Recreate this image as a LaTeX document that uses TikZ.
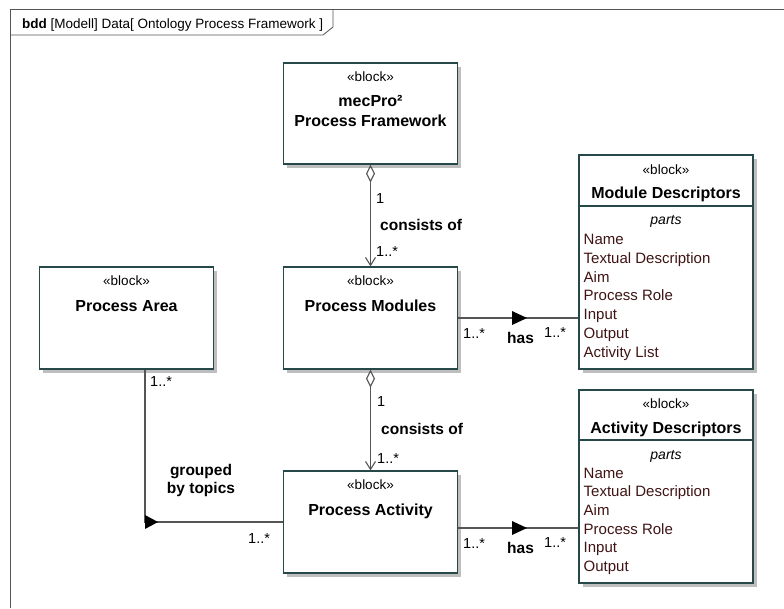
\documentclass[tikz,border=0pt]{standalone}
\usepackage{fontspec}
\setmainfont{Liberation Sans}
\usetikzlibrary{arrows.meta,shadows,calc}
\definecolor{boxcol}{RGB}{38,72,72}
\definecolor{shcol}{RGB}{190,190,190}
\definecolor{conncol}{RGB}{85,85,85}
\definecolor{attrcol}{RGB}{64,20,20}
\begin{document}
\begin{tikzpicture}[x=1pt,y=-1pt,
  blockbox/.style={draw=boxcol, line width=1.1pt, fill=white, inner sep=0pt, minimum width=174pt,
    drop shadow={opacity=1, fill=shcol, shadow xshift=3.5pt, shadow yshift=-3.5pt}},
  stereo/.style={font=\fontsize{13.5}{16}\selectfont, anchor=base, inner sep=0pt},
  btitle/.style={font=\fontsize{16}{19}\selectfont\bfseries, anchor=base, inner sep=0pt},
  partlbl/.style={font=\fontsize{14}{16}\selectfont\itshape, anchor=base, inner sep=0pt},
  attr/.style={font=\fontsize{15}{17}\selectfont, text=attrcol, anchor=base west, inner sep=0pt},
  mult/.style={font=\fontsize{14.5}{17}\selectfont, anchor=base west, inner sep=0pt},
  rolelbl/.style={font=\fontsize{15.5}{18}\selectfont\bfseries, anchor=base west, inner sep=0pt},
  rolec/.style={font=\fontsize{15.5}{18}\selectfont\bfseries, anchor=base, inner sep=0pt},
  conn/.style={draw=conncol, line width=1.1pt},
  seprule/.style={draw=boxcol, line width=1.1pt},
]
\useasboundingbox (0,0) rectangle (784,608);
\fill[white] (0,0) rectangle (784,608);

% diagram frame
\draw[conncol, line width=1pt] (10,608) -- (10,9) -- (784,9);
\draw[conncol, line width=0.8pt] (10,35) -- (323,35) -- (333,27) -- (333,9);
\node[anchor=base west, inner sep=0pt, font=\fontsize{13.5}{16}\selectfont] (hdr) at (22,28)
  {\textbf{bdd} [Modell] Data[ Ontology Process Framework ]};

% blocks
\node[blockbox, minimum height=101pt] (fw) at (370.5,113.5) {};
\node[stereo] (fws) at (370.5,81) {«block»};
\node[btitle] (fwt1) at (370.5,106) {mecPro²};
\node[btitle] (fwt2) at (370.5,126) {Process Framework};

\node[blockbox, minimum height=102pt] (area) at (126.5,318) {};
\node[stereo] (areas) at (126.5,285) {«block»};
\node[btitle] (areat) at (126.5,311) {Process Area};

\node[blockbox, minimum height=102pt] (mod) at (370.5,318) {};
\node[stereo] (mods) at (370.5,285) {«block»};
\node[btitle] (modt) at (370.5,311) {Process Modules};

\node[blockbox, minimum height=102pt] (act) at (370.5,522) {};
\node[stereo] (acts) at (370.5,489) {«block»};
\node[btitle] (actt) at (370.5,515) {Process Activity};

% descriptor blocks
\coordinate (s1) at (0,206);
\coordinate (s2) at (0,440);
\node[blockbox, minimum height=214pt] (md) at (666,262) {};
\draw[seprule] (md.west |- s1) -- (md.east |- s1);
\node[stereo] (mds) at (666,174) {«block»};
\node[btitle] (mdt) at (666,198) {Module Descriptors};
\node[partlbl] (mdp) at (666,224) {parts};
\node[attr] (mda1) at (583.5,244) {Name};
\node[attr] (mda2) at (583.5,263) {Textual Description};
\node[attr] (mda3) at (583.5,282) {Aim};
\node[attr] (mda4) at (583.5,300.5) {Process Role};
\node[attr] (mda5) at (583.5,319.5) {Input};
\node[attr] (mda6) at (583.5,338) {Output};
\node[attr] (mda7) at (583.5,357) {Activity List};

\node[blockbox, minimum height=193pt] (ad) at (666,486.5) {};
\draw[seprule] (ad.west |- s2) -- (ad.east |- s2);
\node[stereo] (ads) at (666,408) {«block»};
\node[btitle] (adt) at (666,433) {Activity Descriptors};
\node[partlbl] (adp) at (666,459) {parts};
\node[attr] (ada1) at (583.5,478) {Name};
\node[attr] (ada2) at (583.5,496.7) {Textual Description};
\node[attr] (ada3) at (583.5,515.4) {Aim};
\node[attr] (ada4) at (583.5,534) {Process Role};
\node[attr] (ada5) at (583.5,552.8) {Input};
\node[attr] (ada6) at (583.5,571.5) {Output};

% composition connectors
\draw[conn, {Diamond[open,length=18pt,width=9pt]}-{Straight Barb[length=8pt,width=10pt]}] (fw.south) -- (mod.north);
\node[mult] (m1) at (376,203) {1};
\node[rolelbl] (c1) at (380,230) {consists of};
\node[mult] (m2) at (376,256) {1..*};

\draw[conn, {Diamond[open,length=18pt,width=9pt]}-{Straight Barb[length=8pt,width=10pt]}] (mod.south) -- (act.north);
\node[mult] (m3) at (377,406) {1};
\node[rolelbl] (c2) at (381,434) {consists of};
\node[mult] (m4) at (377,463) {1..*};

% has connectors
\draw[conn] (mod.east) -- (mod.east -| md.west);
\fill (512,311) -- (527,318) -- (512,325) -- cycle;
\node[mult] (m5) at (463,338) {1..*};
\node[rolelbl] (h1) at (507,343) {has};
\node[mult] (m6) at (544,337) {1..*};

\coordinate (ae) at ([yshift=-6pt]act.east);
\draw[conn] (ae) -- (ae -| ad.west);
\fill (512,521) -- (527,528) -- (512,535) -- cycle;
\node[mult] (m7) at (463,548) {1..*};
\node[rolelbl] (h2) at (507,553) {has};
\node[mult] (m8) at (544,547) {1..*};

% grouped by topics
\coordinate (gx) at (145,0);
\draw[conn] (gx |- area.south) |- (act.west);
\fill (145,515) -- (158,522) -- (145,529) -- cycle;
\node[mult] (m9) at (150,386) {1..*};
\node[rolec] (g1) at (201,475) {grouped};
\node[rolec] (g2) at (201,493) {by topics};
\node[mult] (m10) at (248,543) {1..*};
\end{tikzpicture}
\end{document}
